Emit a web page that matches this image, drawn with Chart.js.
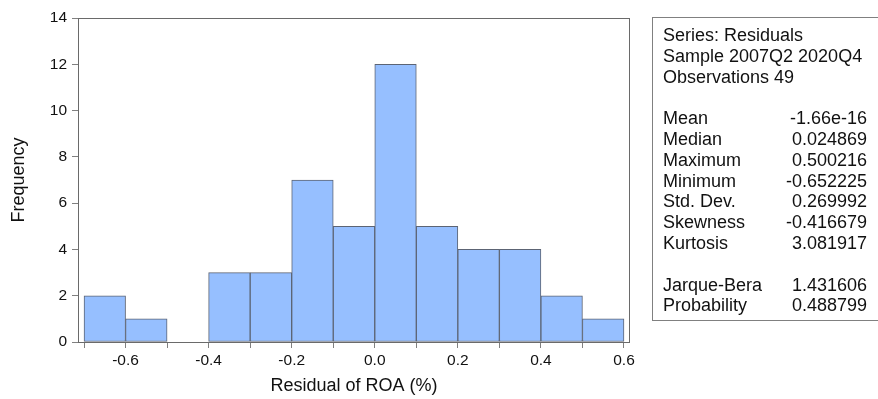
<!DOCTYPE html>
<html>
<head>
<meta charset="utf-8">
<script src="https://cdn.jsdelivr.net/npm/chart.js@4"></script>
<style>
  html, body { margin: 0; padding: 0; background: #fff; }
  #wrap { position: relative; width: 878px; height: 399px; overflow: hidden; font-family: "Liberation Sans", Arial, sans-serif; }
  #c { position: absolute; left: 0; top: 0; }
  #stats { position: absolute; left: 652px; top: 17px; width: 240px; height: 304px; border: 1px solid #808080; box-sizing: border-box; padding: 7px 0 0 10px; font-size: 18px; line-height: 20.8px; color: #111; }
  .row { display: flex; justify-content: space-between; width: 204px; }
  .blank { height: 20.8px; }
</style>
</head>
<body>
<div id="wrap">
  <canvas id="c" width="878" height="399"></canvas>
  <div id="stats"></div>
</div>
<script>
// Histogram bin centers (bin width 0.1, from -0.7 to 0.6)
const binCenters = [-0.65, -0.55, -0.45, -0.35, -0.25, -0.15, -0.05, 0.05, 0.15, 0.25, 0.35, 0.45, 0.55];
const frequencies = [2, 1, 0, 3, 3, 7, 5, 12, 5, 4, 4, 2, 1];
const xTickValues = [-0.7, -0.6, -0.5, -0.4, -0.3, -0.2, -0.1, 0.0, 0.1, 0.2, 0.3, 0.4, 0.5, 0.6];
const xTickLabels = ["", "-0.6", "", "-0.4", "", "-0.2", "", "0.0", "", "0.2", "", "0.4", "", "0.6"];
const yTickValues = [0, 2, 4, 6, 8, 10, 12, 14];
const headerLines = ["Series: Residuals", "Sample 2007Q2 2020Q4", "Observations 49"];
const statNames1 = ["Mean", "Median", "Maximum", "Minimum", "Std. Dev.", "Skewness", "Kurtosis"];
const statValues1 = ["-1.66e-16", "0.024869", "0.500216", "-0.652225", "0.269992", "-0.416679", "3.081917"];
const statNames2 = ["Jarque-Bera", "Probability"];
const statValues2 = ["1.431606", "0.488799"];

// Stats box (real text)
const stats = document.getElementById('stats');
let html = '';
headerLines.forEach(t => { html += '<div>' + t + '</div>'; });
html += '<div class="blank"></div>';
statNames1.forEach((n, i) => { html += '<div class="row"><span>' + n + '</span><span>' + statValues1[i] + '</span></div>'; });
html += '<div class="blank"></div>';
statNames2.forEach((n, i) => { html += '<div class="row"><span>' + n + '</span><span>' + statValues2[i] + '</span></div>'; });
stats.innerHTML = html;

const frame = {
  id: 'frame',
  afterDatasetsDraw(chart) {
    const a = chart.chartArea, ctx = chart.ctx;
    ctx.save();
    ctx.strokeStyle = '#6a6a6a';
    ctx.lineWidth = 1;
    ctx.strokeRect(Math.round(a.left) + 0.5, Math.round(a.top) + 0.5, Math.round(a.right - a.left) - 1, Math.round(a.bottom - a.top));
    ctx.restore();
  }
};

Chart.defaults.font.family = '"Liberation Sans", Arial, sans-serif';
Chart.defaults.color = '#111';

new Chart(document.getElementById('c'), {
  type: 'bar',
  data: {
    datasets: [{
      data: binCenters.map((x, i) => ({ x: x, y: frequencies[i] })),
      backgroundColor: '#96BFFF',
      borderColor: '#5c6474',
      borderWidth: 1,
      borderSkipped: false,
      barPercentage: 1,
      categoryPercentage: 1
    }]
  },
  options: {
    responsive: false,
    animation: false,
    layout: { padding: { left: 0, right: 248, top: 18, bottom: 0 } },
    plugins: { legend: { display: false }, tooltip: { enabled: false } },
    scales: {
      x: {
        type: 'linear',
        offset: false,
        min: -0.7145,
        max: 0.6145,
        afterBuildTicks(scale) { scale.ticks = xTickValues.map(v => ({ value: v })); },
        afterFit(scale) { scale.height = 57; },
        grid: { offset: false, drawOnChartArea: false, drawTicks: true, tickLength: 6, color: '#808080' },
        border: { display: false },
        ticks: {
          autoSkip: false, maxRotation: 0, padding: 3,
          font: { size: 15.5 }, color: '#111',
          callback(v, i) { return xTickLabels[i]; }
        },
        title: { display: true, text: 'Residual of ROA (%)', font: { size: 18 }, color: '#111', padding: { top: 0, bottom: 2 } }
      },
      y: {
        min: 0,
        max: 14,
        afterBuildTicks(scale) { scale.ticks = yTickValues.map(v => ({ value: v })); },
        afterFit(scale) { scale.width = 78; },
        grid: { drawOnChartArea: false, drawTicks: true, tickLength: 6, color: '#808080' },
        border: { display: false },
        ticks: { padding: 5, font: { size: 15.5 }, color: '#111' },
        title: { display: true, text: 'Frequency', font: { size: 18 }, color: '#111', padding: { top: 8, bottom: 0 } }
      }
    }
  },
  plugins: [frame]
});
</script>
</body>
</html>
